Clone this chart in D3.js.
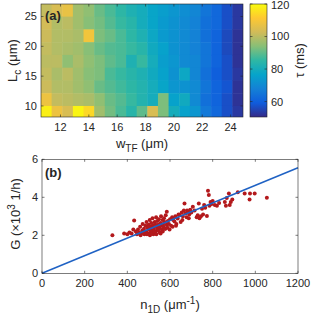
<html>
<head>
<meta charset="utf-8" />
<title>tau map and growth</title>
<script src="https://cdn.jsdelivr.net/npm/d3@7"></script>
<style>
body { margin: 0; background: #fff; }
text { font-family: "Liberation Sans", Arial, sans-serif; fill: #262626; }
</style>
</head>
<body>
<script>

// panel (a): heat map, w_TF columns, L_c rows (top to bottom)
var wtfValues = [11, 11.75, 12.5, 13.25, 14, 14.75, 15.5, 16.25, 17, 17.75, 18.5, 19.25, 20, 20.75, 21.5, 22.25, 23, 23.75, 24.5];
var lcValues = [26.05, 23.91, 21.77, 19.63, 17.49, 15.35, 13.21, 11.07, 8.93];
var tauRows = [
	[101,104,107,97,95,91,88,85,82,80,77,75,73,71,69,65,62,57,53],
	[103,99,100,97,94,92,89,86,84,80,77,74,72,70,68,64,62,57,53],
	[102,99,99,98,109,93,91,88,85,82,78,74,72,70,68,64,61,56,52],
	[101,99,98,97,94,91,89,88,86,84,79,76,72,70,68,65,61,56,52],
	[100,100,95,98,95,93,90,88,82,86,80,75,73,70,69,65,61,57,52],
	[101,98,100,97,94,93,88,86,84,82,79,76,72,78,69,64,60,57,53],
	[102,99,99,97,95,91,89,87,85,83,80,77,73,72,70,65,61,58,52],
	[108,101,100,99,98,95,91,89,86,83,80,93,76,79,70,64,61,57,52],
	[118,108,104,119,114,97,92,88,84,90,104,93,80,76,73,66,62,57,53]
];
var xTicksA = [12, 14, 16, 18, 20, 22, 24];
var yTicksA = [10, 15, 20, 25];
var cbTicks = [60, 80, 100, 120];

// panel (b): scatter of G vs n_1D
var nValues = [330,385,400,410,420,432,440,445,450,455,460,465,470,472,478,480,485,488,490,495,
	498,500,502,505,508,510,512,515,518,520,522,525,528,530,532,535,538,540,542,545,
	548,550,552,555,558,560,562,565,568,570,572,575,578,580,585,585,590,595,600,605,
	610,615,621,625,630,636,640,645,650,655,660,665,668,672,678,680,685,690,695,700,
	707,715,725,730,735,738,745,750,755,760,765,773,778,782,785,790,795,800,810,820,
	830,857,862,866,876,880,885,892,918,950,973,975,997,1054,
	428,462,476,492,506,516,526,536,546,556,566,576,588,598,612,628,658,688];
var gValues = [2.0,2.1,2.05,2.15,2.1,2.78,2.2,2.05,2.3,2.15,2.45,2.1,2.25,2.6,2.35,2.05,2.5,2.2,2.7,2.4,
	2.1,2.55,2.3,2.8,2.15,2.45,2.65,2.25,2.9,2.5,2.05,2.35,2.7,2.6,2.2,2.95,2.45,2.75,2.3,2.55,
	2.85,2.4,2.15,2.65,3.0,2.5,2.3,2.8,2.6,2.45,2.9,2.7,2.35,3.05,2.55,3.24,2.75,2.6,2.85,2.5,
	2.95,2.8,2.72,3.0,2.6,2.89,3.1,3.07,2.7,3.2,3.0,3.3,3.68,3.15,2.95,3.3,3.25,3.1,3.35,3.2,
	3.5,3.3,2.95,3.05,3.68,2.9,3.0,3.4,3.1,3.6,3.45,3.02,4.35,4.12,3.55,3.75,3.65,3.8,3.6,3.55,
	3.7,3.75,3.55,3.96,4.2,3.6,3.75,3.89,4.26,4.2,3.89,4.2,4.2,3.98,
	2.3,2.0,2.15,2.05,2.0,2.1,2.2,2.05,2.25,2.1,2.2,2.35,2.4,2.3,2.45,2.5,2.8,2.9];
var fitSlope = 0.00463;
var xTicksB = [0, 200, 400, 600, 800, 1000, 1200];
var yTicksB = [0, 2, 4, 6];

// parula approximation
var parulaStops = [0, 0.125, 0.25, 0.375, 0.5, 0.625, 0.75, 0.875, 1];
var parulaColors = ["#352a87","#0f5cdd","#1481d6","#06a4ca","#2eb7a4","#87bf77","#d1bb59","#fec832","#f9fb0e"];
var tauMin = 50.5, tauMax = 120;
var color = d3.scaleLinear()
	.domain(parulaStops.map(t => tauMin + t*(tauMax-tauMin)))
	.range(parulaColors)
	.clamp(true);

var svg = d3.select("body").append("svg")
	.attr("width", 311).attr("height", 317);

var axisColor = "#262626";

// --- panel a ---
var xA = d3.scaleLinear().domain([10.625, 24.875]).range([41, 243]);
var yA = d3.scaleLinear().domain([8.15, 27.1]).range([117, 4]);
var cw = 0.75, ch = 2.14;

svg.append("clipPath").attr("id","clipA").append("rect")
	.attr("x",41).attr("y",4).attr("width",202).attr("height",113);

var cells = [];
tauRows.forEach(function(row, i) {
	row.forEach(function(v, j) {
		cells.push({w: wtfValues[j], l: lcValues[i], v: v});
	});
});

svg.append("g").attr("clip-path","url(#clipA)")
	.selectAll("rect").data(cells).enter().append("rect")
	.attr("x", d => xA(d.w - cw/2))
	.attr("y", d => yA(d.l + ch/2))
	.attr("width", d => xA(d.w + cw/2) - xA(d.w - cw/2) + 0.5)
	.attr("height", d => yA(d.l - ch/2) - yA(d.l + ch/2) + 0.5)
	.attr("fill", d => color(d.v));

function boxAxes(g, x, y, xt, yt, tick) {
	var x0 = x.range()[0], x1 = x.range()[1], y0 = y.range()[0], y1 = y.range()[1];
	g.append("rect").attr("x",x0).attr("y",y1).attr("width",x1-x0).attr("height",y0-y1)
		.attr("fill","none").attr("stroke",axisColor).attr("stroke-width",0.6);
	xt.forEach(function(t) {
		g.append("line").attr("x1",x(t)).attr("x2",x(t)).attr("y1",y0).attr("y2",y0-tick).attr("stroke",axisColor).attr("stroke-width",0.6);
		g.append("line").attr("x1",x(t)).attr("x2",x(t)).attr("y1",y1).attr("y2",y1+tick).attr("stroke",axisColor).attr("stroke-width",0.6);
		g.append("text").attr("x",x(t)).attr("y",y0+14).attr("text-anchor","middle").attr("font-size","11px").text(t);
	});
	yt.forEach(function(t) {
		g.append("line").attr("x1",x0).attr("x2",x0+tick).attr("y1",y(t)).attr("y2",y(t)).attr("stroke",axisColor).attr("stroke-width",0.6);
		g.append("line").attr("x1",x1).attr("x2",x1-tick).attr("y1",y(t)).attr("y2",y(t)).attr("stroke",axisColor).attr("stroke-width",0.6);
		g.append("text").attr("x",x0-4).attr("y",y(t)).attr("dy","0.36em").attr("text-anchor","end").attr("font-size","11px").text(t);
	});
}

var gA = svg.append("g");
boxAxes(gA, xA, yA, xTicksA, yTicksA, 2.5);

gA.append("text").attr("x",45).attr("y",20).attr("font-weight","bold").attr("font-size","13px").text("(a)");

var xl = gA.append("text").attr("x",142).attr("y",148).attr("text-anchor","middle").attr("font-size","13px");
xl.append("tspan").text("w");
xl.append("tspan").attr("font-size","10px").attr("dy",4).text("TF");
xl.append("tspan").attr("dy",-4).text(" (\u03bcm)");

var yl = gA.append("text").attr("transform","translate(17,60.5) rotate(-90)").attr("text-anchor","middle").attr("font-size","13px");
yl.append("tspan").text("L");
yl.append("tspan").attr("font-size","10px").attr("dy",4).text("c");
yl.append("tspan").attr("dy",-4).text(" (\u03bcm)");

// colorbar
var yCb = d3.scaleLinear().domain([tauMin, tauMax]).range([117, 4]);
var grad = svg.append("defs").append("linearGradient").attr("id","cbGrad")
	.attr("x1","0").attr("y1","1").attr("x2","0").attr("y2","0");
parulaStops.forEach(function(t, i) {
	grad.append("stop").attr("offset", t).attr("stop-color", parulaColors[i]);
});
svg.append("rect").attr("x",250).attr("y",4).attr("width",17).attr("height",113)
	.attr("fill","url(#cbGrad)").attr("stroke",axisColor).attr("stroke-width",0.6);
cbTicks.forEach(function(t) {
	svg.append("line").attr("x1",267).attr("x2",264.5).attr("y1",yCb(t)).attr("y2",yCb(t)).attr("stroke",axisColor).attr("stroke-width",0.6);
	svg.append("line").attr("x1",250).attr("x2",252.5).attr("y1",yCb(t)).attr("y2",yCb(t)).attr("stroke",axisColor).attr("stroke-width",0.6);
	svg.append("text").attr("x",271).attr("y",Math.max(yCb(t), 5.5)).attr("dy","0.36em").attr("font-size","11px").text(t);
});
svg.append("text").attr("transform","translate(304,60.5) rotate(-90)").attr("text-anchor","middle")
	.attr("font-size","13px").text("\u03c4 (ms)");

// --- panel b ---
var xB = d3.scaleLinear().domain([0, 1200]).range([42, 298]);
var yB = d3.scaleLinear().domain([0, 6]).range([273.3, 159.3]);
var gB = svg.append("g");

var pts = nValues.map((n, i) => ({n: n, g: gValues[i]}));
gB.selectAll("circle").data(pts).enter().append("circle")
	.attr("cx", d => xB(d.n)).attr("cy", d => yB(d.g)).attr("r", 2)
	.attr("fill", "#b3191c");

gB.append("line")
	.attr("x1", xB(0)).attr("y1", yB(0))
	.attr("x2", xB(1200)).attr("y2", yB(fitSlope*1200))
	.attr("stroke", "#1f62c4").attr("stroke-width", 1.5);

boxAxes(gB, xB, yB, xTicksB, yTicksB, 2.5);

gB.append("text").attr("x",45).attr("y",177).attr("font-weight","bold").attr("font-size","13px").text("(b)");

var xl2 = gB.append("text").attr("x",170).attr("y",309).attr("text-anchor","middle").attr("font-size","13px");
xl2.append("tspan").text("n");
xl2.append("tspan").attr("font-size","10px").attr("dy",4).text("1D");
xl2.append("tspan").attr("dy",-4).text(" (\u03bcm");
xl2.append("tspan").attr("font-size","10px").attr("dy",-5).text("-1");
xl2.append("tspan").attr("dy",5).text(")");

var yl2 = gB.append("text").attr("transform","translate(20,214) rotate(-90)").attr("text-anchor","middle").attr("font-size","13px");
yl2.append("tspan").text("G (\u00d710");
yl2.append("tspan").attr("font-size","10px").attr("dy",-5).text("3");
yl2.append("tspan").attr("dy",5).text(" 1/h)");

</script>
</body>
</html>
